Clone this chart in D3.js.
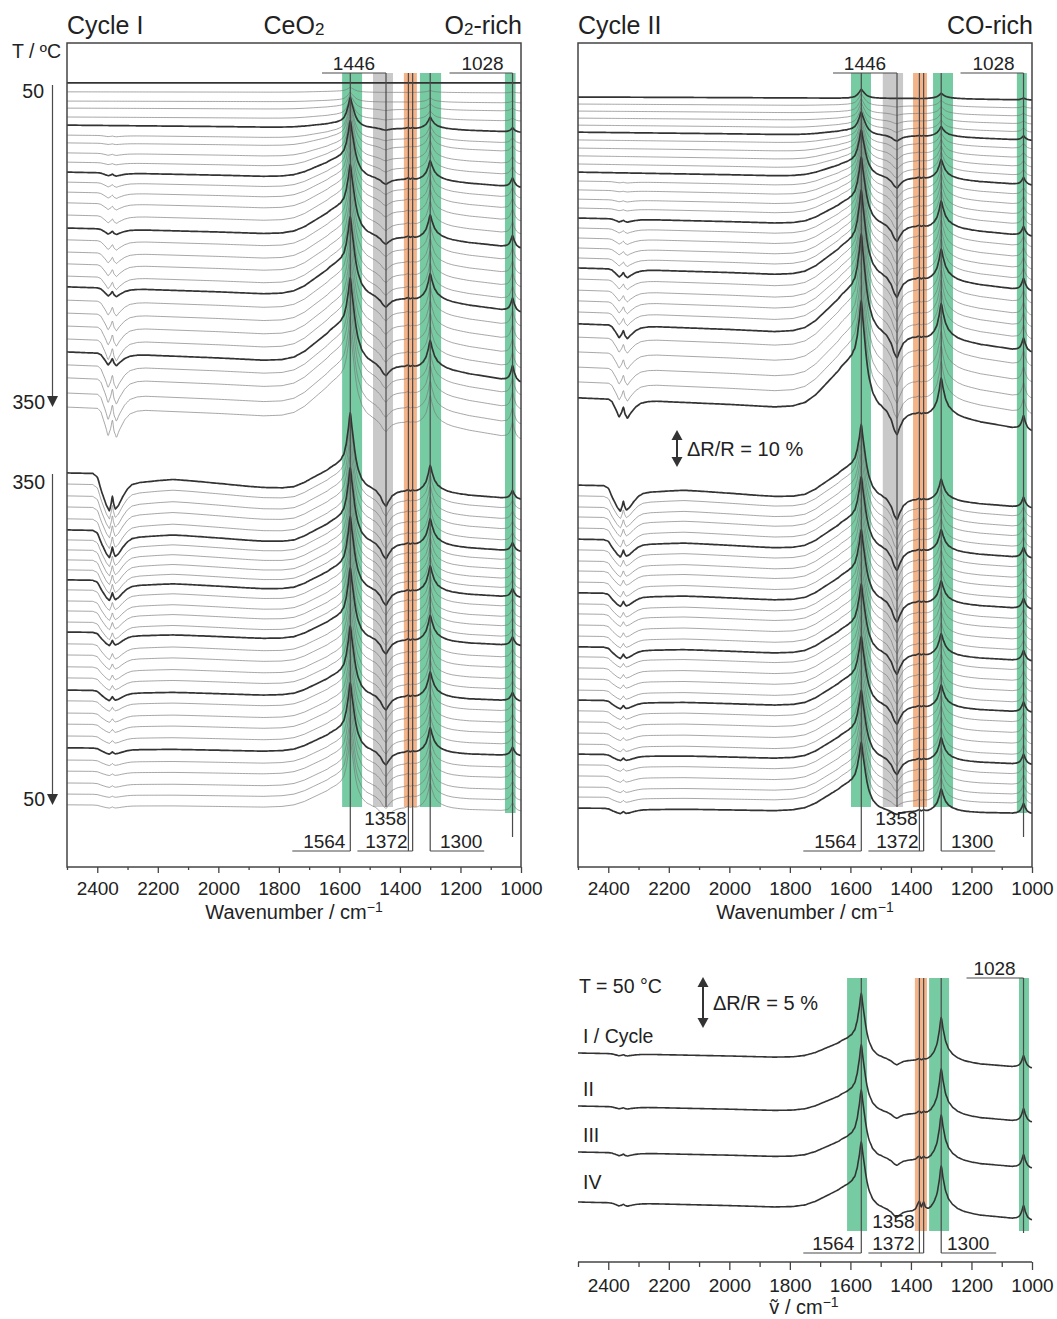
<!DOCTYPE html>
<html>
<head>
<meta charset="utf-8">
<title>DRIFT spectra of CeO2 under cycling</title>
<script src="https://cdn.jsdelivr.net/npm/d3@7/dist/d3.min.js"></script>
<style>
  html, body { margin: 0; padding: 0; background: #fff; }
  svg { display: block; font-family: "Liberation Sans", Arial, Helvetica, sans-serif; }
</style>
</head>
<body>
<svg id="chart" width="1057" height="1319"></svg>
<script>
// ---------- normalised band profiles: [wavenumber / cm-1, intensity] ----------
const band1564 = [[2500,0],[1640,0],[1610,0.04],[1595,0.1],[1585,0.2],[1577,0.4],[1570,0.7],[1564,1],[1558,0.75],[1550,0.45],[1540,0.22],[1528,0.1],[1512,0.04],[1490,0.015],[1460,0],[1000,0]];
const band1300 = [[2500,0],[1360,0],[1345,0.05],[1333,0.12],[1322,0.24],[1313,0.42],[1306,0.7],[1300,1],[1294,0.75],[1286,0.48],[1276,0.3],[1262,0.18],[1245,0.1],[1225,0.05],[1200,0.02],[1170,0],[1000,0]];
const band1028 = [[2500,0],[1065,0],[1050,0.08],[1040,0.25],[1034,0.55],[1028,1],[1022,0.55],[1015,0.22],[1008,0.08],[1000,0.02]];
const bandShoulder = [[2500,0],[1850,0],[1790,0.04],[1750,0.12],[1715,0.28],[1685,0.48],[1655,0.68],[1630,0.85],[1610,0.95],[1590,1],[1575,0.98],[1564,0.9],[1552,0.7],[1540,0.45],[1525,0.25],[1505,0.12],[1480,0.05],[1450,0],[1000,0]];
const bandGasCO2 = [[2500,0],[2400,0],[2388,-0.12],[2375,-0.55],[2364,-0.95],[2356,-0.7],[2350,-0.4],[2345,-0.75],[2337,-1],[2326,-0.72],[2310,-0.38],[2292,-0.15],[2268,-0.04],[2240,0],[1000,0]];
const bandBroadCO2 = [[2500,0],[2415,0],[2400,-0.1],[2385,-0.5],[2370,-0.85],[2360,-1],[2354,-0.8],[2350,-0.6],[2346,-0.8],[2340,-0.95],[2330,-0.85],[2315,-0.6],[2300,-0.4],[2285,-0.28],[2260,-0.22],[2200,-0.16],[2150,-0.12],[2100,-0.14],[2000,-0.2],[1900,-0.26],[1800,-0.3],[1750,-0.32],[1700,-0.3],[1000,-0.3]];
const band1446 = [[2500,0],[1500,0],[1480,-0.1],[1465,-0.4],[1455,-0.8],[1446,-1],[1438,-0.7],[1425,-0.3],[1410,-0.1],[1395,0],[1000,0]];
const band1372 = [[2500,0],[1395,0],[1385,0.2],[1376,0.8],[1372,1],[1366,0.4],[1362,0.7],[1358,0.9],[1352,0.3],[1342,0],[1000,0]];
const baselineDrift = [[2500,0],[2300,0.08],[2000,0.2],[1800,0.3],[1600,0.38],[1400,0.48],[1300,0.55],[1200,0.68],[1100,0.84],[1000,1]];

// ---------- Cycle I (O2-rich), heating 50 -> 350 °C (ΔR/R in %, offsets in %) ----------
const c1HeatOffset = [10.8,13.2,15.7,17.6,20.0,22.2,24.9,27.0,29.7,32.2,34.9,37.6,40.3,43.2,46.5,50.0,53.2,56.5,59.7,63.0,65.9,69.5,73.0,76.5,80.0,83.5,87.0,90.5,94.6,98.4];
const c1HeatP1564 = [0,1.1,2.2,3.2,4.6,7.0,7.8,8.6,9.5,10.3,10.8,11.4,11.6,11.9,12.2,12.4,12.7,13.0,13.0,13.2,13.5,13.5,13.8,13.8,14.1,14.1,14.1,14.3,14.3,14.3];
const c1HeatP1300 = [0,0.5,1.1,1.6,2.2,3.2,3.8,4.3,4.9,5.1,5.4,5.7,5.9,6.2,6.5,6.5,6.8,6.8,7.0,7.0,7.3,7.3,7.3,7.6,7.6,7.6,7.6,7.8,7.8,7.8];
const c1HeatP1028 = [0,0.3,0.5,0.8,0.8,1.1,1.4,1.6,1.9,2.2,2.4,2.7,2.7,3.0,3.0,3.2,3.2,3.2,3.5,3.5,3.5,3.8,3.8,3.8,3.8,4.1,4.1,4.1,4.1,4.1];
const c1HeatShoulder = [0,0.3,0.5,0.8,1.1,1.4,2.2,3.0,3.8,4.6,5.4,5.9,6.5,7.0,7.6,7.8,8.1,8.4,8.6,8.9,9.2,9.5,9.7,10.0,10.3,10.3,10.5,10.8,10.8,11.1];
const c1HeatCO2 = [0,0,0,0,0,0,0.3,0.3,0.5,0.5,0.8,1.1,1.4,1.6,1.9,1.4,2.4,2.7,3.0,3.2,2.2,3.8,4.3,4.9,5.4,3.2,5.9,6.5,7.0,7.6];
const c1HeatP1446 = [0,0,0,0.3,0.3,0.5,0.5,0.8,0.8,1.1,1.4,1.4,1.6,1.6,1.9,1.9,1.9,2.2,2.2,2.2,2.4,2.4,2.4,2.7,2.7,2.7,2.7,2.7,2.7,2.7];
const c1HeatP1372 = [0,0,0,0,0.3,0.3,0.3,0.3,0.3,0.3,0.5,0.5,0.5,0.5,0.5,0.5,0.5,0.5,0.5,0.5,0.5,0.5,0.5,0.5,0.5,0.5,0.5,0.5,0.5,0.5];
const c1HeatDrift = [0,0.3,0.5,0.8,1.1,1.9,2.2,2.4,3.0,3.5,4.1,4.3,4.6,4.9,5.1,5.4,5.7,5.9,6.2,6.5,6.8,7.0,7.3,7.6,7.8,8.1,8.1,8.4,8.4,8.6];
const c1HeatBold = [0,5,10,15,20,25];

// ---------- Cycle I, cooling 350 -> 50 °C ----------
const c1CoolOffset = [116.2,119.2,122.4,125.4,128.6,131.6,134.3,137.0,139.7,142.4,145.1,147.8,150.8,153.5,156.5,159.2,162.4,165.4,168.6,171.6,174.9,177.8,181.1,184.1,187.3,190.5,193.8,196.8,200.0,203.0,205.9];
const c1CoolP1564 = [14.9,14.9,14.8,14.8,14.7,14.6,14.6,14.5,14.4,14.4,14.3,14.2,14.2,14.1,14.0,14.0,13.9,13.9,13.8,13.8,13.7,13.7,13.6,13.6,13.6,13.5,13.5,13.5,13.5,13.5,13.5];
const c1CoolP1300 = [7.3,7.3,7.3,7.2,7.2,7.2,7.2,7.1,7.1,7.1,7.1,7.0,7.0,7.0,7.0,7.0,6.9,6.9,6.9,6.9,6.9,6.9,6.8,6.8,6.8,6.8,6.8,6.8,6.8,6.8,6.8];
const c1CoolP1028 = [2.2,2.2,2.2,2.2,2.2,2.2,2.2,2.2,2.2,2.2,2.2,2.2,2.2,2.2,2.2,2.2,2.2,2.2,2.2,2.2,2.2,2.2,2.2,2.2,2.2,2.2,2.2,2.2,2.2,2.2,2.2];
const c1CoolShoulder = [6.8,6.8,6.8,6.7,6.7,6.6,6.6,6.5,6.5,6.4,6.4,6.3,6.3,6.2,6.2,6.1,6.1,6.1,6.0,6.0,6.0,6.0,5.9,5.9,5.9,5.9,5.9,5.9,5.9,5.9,5.9];
const c1CoolCO2 = [10.0,9.2,8.6,8.1,7.8,7.3,7.0,6.8,6.5,6.2,5.4,5.4,5.1,4.9,4.6,3.5,4.1,3.8,3.5,3.2,2.7,2.7,2.4,2.2,1.9,1.6,1.4,1.1,1.1,0.8,0.8];
const c1CoolP1446 = [4.1,4.1,4.1,4.0,4.0,4.0,3.9,3.9,3.9,3.9,3.8,3.8,3.8,3.8,3.7,3.7,3.7,3.7,3.6,3.6,3.6,3.6,3.6,3.5,3.5,3.4,3.3,3.2,3.1,3.0,2.9];
const c1CoolP1372 = [0.5,0.5,0.5,0.5,0.5,0.5,0.5,0.5,0.5,0.5,0.5,0.5,0.5,0.5,0.5,0.5,0.5,0.5,0.5,0.5,0.5,0.5,0.5,0.5,0.5,0.5,0.5,0.5,0.5,0.5,0.5];
const c1CoolDrift = [4.1,4.0,3.9,3.8,3.7,3.6,3.5,3.4,3.3,3.2,3.1,3.0,2.9,2.8,2.7,2.6,2.5,2.4,2.3,2.2,2.1,2.0,1.9,1.8,1.7,1.6,1.6,1.5,1.5,1.4,1.4];
const c1CoolBold = [0,5,10,15,20,25];

// ---------- Cycle II (CO-rich), heating 50 -> 350 °C ----------
const c2HeatOffset = [14.6,16.5,18.4,20.3,22.2,24.1,26.2,28.4,30.5,32.7,34.9,37.3,39.7,42.2,44.6,47.3,50.0,52.7,55.4,58.1,60.8,63.8,66.8,69.7,72.7,75.9,79.5,83.5,87.6,91.6,95.9];
const c2HeatP1564 = [2.4,3.0,3.5,4.1,4.6,5.1,5.9,6.8,7.6,8.4,9.2,10.0,10.8,11.4,11.9,12.4,13.0,13.5,14.1,14.6,15.1,15.4,15.7,15.9,16.2,16.5,16.8,17.0,17.3,17.6,17.8];
const c2HeatP1300 = [1.4,1.6,1.9,2.2,2.4,2.7,3.2,3.8,4.3,4.9,5.4,5.9,6.5,6.8,7.0,7.3,7.6,7.8,8.1,8.4,8.6,8.9,9.2,9.5,9.7,9.7,10.0,10.0,10.3,10.3,10.3];
const c2HeatP1028 = [0.5,0.5,0.8,0.8,1.1,1.1,1.4,1.4,1.6,1.6,1.9,1.9,2.2,2.2,2.4,2.4,2.7,2.7,3.0,3.0,3.2,3.2,3.2,3.5,3.5,3.5,3.8,3.8,3.8,3.8,3.8];
const c2HeatShoulder = [0,0.3,0.5,0.8,1.1,1.4,1.9,2.4,3.0,3.5,4.1,4.6,5.1,5.7,6.2,6.8,7.3,7.8,8.4,8.9,9.5,10.0,10.5,11.1,11.6,12.2,12.4,12.7,13.0,13.2,13.5];
const c2HeatCO2 = [0,0,0,0,0,0,0,0,0,0,0,0.3,0.3,0.5,0.5,0.8,1.1,1.4,1.6,1.9,2.2,2.4,2.7,3.0,3.2,3.5,3.8,4.1,4.3,4.6,4.9];
const c2HeatP1446 = [0,0.3,0.5,0.8,1.1,1.4,1.6,1.9,2.2,2.4,2.7,3.0,3.2,3.5,3.8,4.1,4.3,4.6,4.9,4.9,5.1,5.1,5.4,5.4,5.4,5.7,5.7,5.7,5.9,5.9,5.9];
const c2HeatP1372 = [0,0,0.1,0.1,0.2,0.2,0.3,0.3,0.3,0.4,0.4,0.4,0.5,0.5,0.5,0.5,0.5,0.5,0.5,0.5,0.5,0.5,0.5,0.5,0.5,0.5,0.5,0.5,0.5,0.5,0.5];
const c2HeatDrift = [0.8,1.1,1.4,1.6,1.9,2.2,2.4,2.7,3.0,3.2,3.5,3.8,4.1,4.3,4.6,4.9,5.1,5.4,5.7,5.9,6.2,6.5,6.8,7.0,7.3,7.6,7.8,8.1,8.4,8.6,8.9];
const c2HeatBold = [0,5,10,15,20,25,30];

// ---------- Cycle II, cooling 350 -> 50 °C ----------
const c2CoolOffset = [119.5,122.4,125.4,128.1,131.1,134.1,137.0,140.0,142.7,145.7,148.6,151.6,154.3,157.3,160.3,163.2,165.9,168.9,171.9,174.9,177.6,180.5,183.5,186.5,189.5,192.2,195.1,198.1,201.1,203.8,206.8];
const c2CoolP1564 = [12.4,12.4,12.4,12.3,12.3,12.3,12.3,12.2,12.2,12.2,12.2,12.2,12.1,12.1,12.1,12.1,12.1,12.0,12.0,12.0,12.0,12.0,12.0,11.9,11.9,11.9,11.9,11.9,11.9,11.9,11.9];
const c2CoolP1300 = [5.9,5.9,5.9,5.9,6.0,6.0,6.0,6.0,6.0,6.0,6.1,6.1,6.1,6.1,6.1,6.1,6.1,6.1,6.2,6.2,6.2,6.2,6.2,6.2,6.2,6.2,6.2,6.2,6.2,6.2,6.2];
const c2CoolP1028 = [2.7,2.7,2.7,2.7,2.7,2.7,2.7,2.7,2.7,2.7,2.7,2.7,2.7,2.7,2.7,2.7,2.7,2.7,2.7,2.7,2.7,2.7,2.7,2.7,2.7,2.7,2.7,2.7,2.7,2.7,2.7];
const c2CoolShoulder = [8.6,8.6,8.6,8.6,8.4,8.4,8.4,8.4,8.4,8.1,8.1,8.1,8.1,8.1,8.1,7.8,7.8,7.8,7.8,7.8,7.8,7.8,7.6,7.6,7.6,7.6,7.6,7.6,7.6,7.6,7.6];
const c2CoolCO2 = [6.8,5.9,5.4,5.1,4.9,4.6,4.3,4.1,3.8,3.8,3.5,3.5,3.2,3.2,3.0,3.0,2.7,2.7,2.4,2.4,2.2,2.2,1.9,1.9,1.9,1.6,1.6,1.6,1.4,1.4,1.4];
const c2CoolP1446 = [5.4,5.4,5.4,5.4,5.4,5.4,5.4,5.4,5.4,5.4,5.4,5.4,5.4,5.4,5.3,5.2,5.1,5.0,4.9,4.8,4.7,4.6,4.5,4.4,4.2,4.0,3.4,2.8,2.0,1.4,0.8];
const c2CoolP1372 = [0.5,0.5,0.5,0.5,0.5,0.5,0.5,0.5,0.5,0.5,0.5,0.5,0.5,0.5,0.5,0.5,0.5,0.5,0.5,0.5,0.5,0.5,0.5,0.5,0.5,0.5,0.5,0.5,0.5,0.5,0.5];
const c2CoolDrift = [4.1,4.0,3.9,3.9,3.8,3.7,3.6,3.5,3.5,3.4,3.3,3.2,3.2,3.1,3.0,2.9,2.9,2.8,2.7,2.7,2.6,2.5,2.5,2.4,2.4,2.3,2.1,1.9,1.6,1.3,1.0];
const c2CoolBold = [0,5,10,15,20,25,30];

// ---------- T = 50 °C after cycles I-IV (ΔR/R in %) ----------
const cycleNames = ["I / Cycle", "II", "III", "IV"];
const endOffset = [9.3, 14.6, 19.2, 24.2];
const endP1564 = [4.8, 5.0, 5.0, 4.6];
const endP1300 = [4.4, 4.6, 4.6, 4.6];
const endP1028 = [1.2, 1.3, 1.3, 1.4];
const endShoulder = [2.0, 2.0, 2.1, 2.4];
const endCO2 = [0.2, 0.2, 0.3, 0.3];
const endP1446 = [0.5, 0.5, 0.6, 0.7];
const endP1372 = [0.2, 0.3, 0.4, 1.0];
const endDrift = [1.5, 1.6, 1.6, 1.8];

// ---------- axis ticks and marked bands ----------
const majorTicks = [2400, 2200, 2000, 1800, 1600, 1400, 1200, 1000];
const minorTicks = [2500, 2300, 2100, 1900, 1700, 1500, 1300, 1100];
const shadesCycle1 = [[1591,1525,"carb"],[1489,1423,"grey"],[1387,1344,"orange"],[1334,1264,"carb"],[1053,1018,"carb"]];
const shadesCycle2 = [[1598,1532,"carb"],[1493,1426,"grey"],[1393,1347,"orange"],[1327,1261,"carb"],[1050,1017,"carb"]];
const shadesEnd = [[1611,1545,"carb"],[1387,1347,"orange"],[1340,1274,"carb"],[1043,1010,"carb"]];

// ======================================================================
const shadeColor = { carb: "#76cba3", grey: "#c9c9c9", orange: "#f3b48a" };
const ink = "#333";
const svg = d3.select("#chart");

const profile = pts => d3.scaleLinear().domain(pts.map(d => d[0])).range(pts.map(d => d[1])).clamp(true);
const P = {
  p1564: profile(band1564), p1300: profile(band1300), p1028: profile(band1028),
  shoulder: profile(bandShoulder), gas: profile(bandGasCO2), broad: profile(bandBroadCO2),
  p1446: profile(band1446), p1372: profile(band1372), drift: profile(baselineDrift)
};
// evaluation grid: every knot of every profile, plus a regular 10 cm-1 mesh
const gridSet = new Set(d3.range(2500, 999, -10));
[band1564, band1300, band1028, bandShoulder, bandGasCO2, bandBroadCO2, band1446, band1372, baselineDrift]
  .forEach(b => b.forEach(d => gridSet.add(d[0])));
const grid = Array.from(gridSet).filter(v => v <= 2500 && v >= 1000).sort((a, b) => b - a);

const sections = {
  c1Heat: { offset: c1HeatOffset, p1564: c1HeatP1564, p1300: c1HeatP1300, p1028: c1HeatP1028, shoulder: c1HeatShoulder, co2: c1HeatCO2, co2Shape: "gas", p1446: c1HeatP1446, p1372: c1HeatP1372, drift: c1HeatDrift, bold: c1HeatBold },
  c1Cool: { offset: c1CoolOffset, p1564: c1CoolP1564, p1300: c1CoolP1300, p1028: c1CoolP1028, shoulder: c1CoolShoulder, co2: c1CoolCO2, co2Shape: "broad", p1446: c1CoolP1446, p1372: c1CoolP1372, drift: c1CoolDrift, bold: c1CoolBold },
  c2Heat: { offset: c2HeatOffset, p1564: c2HeatP1564, p1300: c2HeatP1300, p1028: c2HeatP1028, shoulder: c2HeatShoulder, co2: c2HeatCO2, co2Shape: "gas", p1446: c2HeatP1446, p1372: c2HeatP1372, drift: c2HeatDrift, bold: c2HeatBold },
  c2Cool: { offset: c2CoolOffset, p1564: c2CoolP1564, p1300: c2CoolP1300, p1028: c2CoolP1028, shoulder: c2CoolShoulder, co2: c2CoolCO2, co2Shape: "broad", p1446: c2CoolP1446, p1372: c2CoolP1372, drift: c2CoolDrift, bold: c2CoolBold },
  end: { offset: endOffset, p1564: endP1564, p1300: endP1300, p1028: endP1028, shoulder: endShoulder, co2: endCO2, co2Shape: "gas", p1446: endP1446, p1372: endP1372, drift: endDrift, bold: [0,1,2,3] }
};

function spectrum(sec, i) {
  return grid.map(nu => {
    const v = sec.p1564[i] * P.p1564(nu) + sec.p1300[i] * P.p1300(nu) + sec.p1028[i] * P.p1028(nu)
      + sec.shoulder[i] * P.shoulder(nu) + sec.co2[i] * P[sec.co2Shape](nu)
      + sec.p1446[i] * P.p1446(nu) + sec.p1372[i] * P.p1372(nu) - sec.drift[i] * P.drift(nu);
    return [nu, sec.offset[i] - v];
  });
}

function drawSection(g, sec, x, y, boldWidth) {
  const line = d3.line().x(d => x(d[0])).y(d => y(d[1])).curve(d3.curveMonotoneX);
  const idx = d3.range(sec.offset.length);
  const thin = idx.filter(i => !sec.bold.includes(i));
  g.selectAll(null).data(thin).join("path")
    .attr("d", i => line(spectrum(sec, i)))
    .attr("fill", "none").attr("stroke", "#777").attr("stroke-width", 0.65);
  g.selectAll(null).data(sec.bold).join("path")
    .attr("d", i => line(spectrum(sec, i)))
    .attr("fill", "none").attr("stroke", ink).attr("stroke-width", boldWidth);
}

function drawShades(g, shades, x, y0, y1) {
  g.selectAll(null).data(shades).join("rect")
    .attr("x", d => x(d[0])).attr("width", d => x(d[1]) - x(d[0]))
    .attr("y", y0).attr("height", y1 - y0)
    .attr("fill", d => shadeColor[d[2]]);
}

function vline(g, x, y0, y1) {
  g.append("line").attr("x1", x).attr("x2", x).attr("y1", y0).attr("y2", y1)
    .attr("stroke", "#4a4a4a").attr("stroke-width", 1.2);
}
function hline(g, x0, x1, y) {
  g.append("line").attr("x1", x0).attr("x2", x1).attr("y1", y).attr("y2", y)
    .attr("stroke", "#4a4a4a").attr("stroke-width", 1.2);
}
function label(g, txt, x, y, size, anchor) {
  return g.append("text").attr("x", x).attr("y", y).attr("font-size", size)
    .attr("text-anchor", anchor || "middle").attr("fill", "#222").text(txt);
}

function drawAxis(g, x, y0, major, minor, pad, size) {
  const gMaj = g.append("g").attr("transform", `translate(0,${y0})`)
    .call(d3.axisBottom(x).tickValues(majorTicks).tickSize(major).tickPadding(pad).tickFormat(d3.format("d")));
  gMaj.select(".domain").remove();
  gMaj.selectAll(".tick line").attr("stroke", "#444").attr("stroke-width", 1.3);
  gMaj.selectAll(".tick text").attr("font-size", size).attr("fill", "#222")
    .attr("font-family", "'Liberation Sans', Arial, sans-serif");
  const gMin = g.append("g").attr("transform", `translate(0,${y0})`)
    .call(d3.axisBottom(x).tickValues(minorTicks).tickSize(minor).tickFormat(""));
  gMin.select(".domain").remove();
  gMin.selectAll(".tick line").attr("stroke", "#444").attr("stroke-width", 1.3);
}

function axisTitle(g, cx, y, base) {
  const t = g.append("text").attr("x", cx).attr("y", y).attr("text-anchor", "middle")
    .attr("font-size", 20).attr("fill", "#222");
  t.append("tspan").text(base + " / cm");
  t.append("tspan").attr("dy", -7).attr("font-size", 14).text("\u22121");
}

function subTitle(g, x, y, parts, anchor) {
  const t = g.append("text").attr("x", x).attr("y", y).attr("font-size", 25)
    .attr("text-anchor", anchor).attr("fill", "#222");
  parts.forEach(p => {
    if (p.sub) t.append("tspan").attr("font-size", 17).attr("dy", 1).text(p.t);
    else t.append("tspan").attr("dy", p.after ? -1 : 0).text(p.t);
  });
}

function doubleArrow(g, x, y0, y1) {
  g.append("line").attr("x1", x).attr("x2", x).attr("y1", y0 + 6).attr("y2", y1 - 6)
    .attr("stroke", ink).attr("stroke-width", 2);
  g.append("path").attr("d", `M${x},${y0} L${x - 5.5},${y0 + 10} L${x + 5.5},${y0 + 10} Z`).attr("fill", ink);
  g.append("path").attr("d", `M${x},${y1} L${x - 5.5},${y1 - 10} L${x + 5.5},${y1 - 10} Z`).attr("fill", ink);
}

// ---------- stacked panels ----------
const frameTop = 43, frameBottom = 867;
const yStack = d3.scaleLinear().domain([0, 223]).range([frameTop, frameTop + 223 * 3.7]);

function stackedPanel(left, shades, heat, cool, clipId) {
  const x = d3.scaleLinear().domain([2500, 1000]).range([left, left + 454]);
  const g = svg.append("g");
  svg.append("clipPath").attr("id", clipId).append("rect")
    .attr("x", left).attr("y", frameTop).attr("width", 454).attr("height", frameBottom - frameTop);
  const body = g.append("g").attr("clip-path", `url(#${clipId})`);
  drawShades(body, shades.slice(0, 4), x, 73, 807);
  drawShades(body, shades.slice(4), x, 73, 813);
  drawSection(body, heat, x, yStack, 1.7);
  drawSection(body, cool, x, yStack, 1.7);
  // band markers
  const top = 73, bot = 851;
  vline(g, x(1564), top, bot);
  vline(g, x(1446), top, 807);
  vline(g, x(1372), top, bot);
  vline(g, x(1358), top, bot);
  vline(g, x(1300), top, bot);
  vline(g, x(1028), top, 837);
  hline(g, x(1446) - 64, x(1446), top);
  hline(g, x(1028) - 63, x(1028), top);
  hline(g, x(1564) - 58, x(1564), bot);
  hline(g, x(1372) - 51, x(1358), bot);
  hline(g, x(1300), x(1300) + 54, bot);
  label(g, "1446", x(1446) - 32, 70, 19);
  label(g, "1028", x(1028) - 30, 70, 19);
  label(g, "1564", x(1564) - 26, 848, 19);
  label(g, "1358", x(1372) - 23, 825, 19);
  label(g, "1372", x(1372) - 22, 848, 19);
  label(g, "1300", x(1300) + 31, 848, 19);
  // frame and axis
  g.append("rect").attr("x", left).attr("y", frameTop).attr("width", 454).attr("height", frameBottom - frameTop)
    .attr("fill", "none").attr("stroke", "#444").attr("stroke-width", 1.5);
  drawAxis(g, x, frameBottom, 6, 3, 8.5, 19);
  axisTitle(g, left + 227, 919, "Wavenumber");
  return { g, x };
}

const p1 = stackedPanel(67, shadesCycle1, sections.c1Heat, sections.c1Cool, "clipA");
const p2 = stackedPanel(578, shadesCycle2, sections.c2Heat, sections.c2Cool, "clipB");

// panel titles
label(p1.g, "Cycle I", 67, 34, 25, "start");
subTitle(p1.g, 294, 34, [{ t: "CeO" }, { sub: true, t: "2" }], "middle");
subTitle(p1.g, 522, 34, [{ t: "O" }, { sub: true, t: "2" }, { t: "-rich", after: true }], "end");
label(p2.g, "Cycle II", 578, 34, 25, "start");
label(p2.g, "CO-rich", 1033, 34, 25, "end");

// temperature ramps (cycle I)
label(p1.g, "T / \u00baC", 12, 58, 19.5, "start");
label(p1.g, "50", 44, 98, 19.5, "end");
label(p1.g, "350", 45, 409, 19.5, "end");
label(p1.g, "350", 45, 489, 19.5, "end");
label(p1.g, "50", 45, 806, 19.5, "end");
vline(p1.g, 52.5, 85, 398);
vline(p1.g, 52.5, 474, 796);
p1.g.append("path").attr("d", "M47,396 L58,396 L52.5,407 Z").attr("fill", ink);
p1.g.append("path").attr("d", "M47,794 L58,794 L52.5,805 Z").attr("fill", ink);

// scale bar (cycle II)
doubleArrow(p2.g, 677, 430, 467);
label(p2.g, "\u0394R/R = 10 %", 687, 456, 20, "start");

// ---------- bottom panel: spectra at 50 °C after each cycle ----------
const x3 = d3.scaleLinear().domain([2500, 1000]).range([578, 1032]);
const y3 = d3.scaleLinear().domain([0, 30]).range([960, 1260]);
const g3 = svg.append("g");
drawShades(g3, shadesEnd, x3, 978, 1231);
drawSection(g3, sections.end, x3, y3, 1.6);
vline(g3, x3(1564), 978, 1253);
vline(g3, x3(1372), 978, 1253);
vline(g3, x3(1358), 978, 1253);
vline(g3, x3(1300), 978, 1253);
vline(g3, x3(1028), 978, 1233);
hline(g3, x3(1028) - 57, x3(1028), 978);
hline(g3, x3(1564) - 58, x3(1564), 1253);
hline(g3, x3(1372) - 51, x3(1358), 1253);
hline(g3, x3(1300), x3(1300) + 55, 1253);
label(g3, "1028", x3(1028) - 29, 975, 19);
label(g3, "1564", x3(1564) - 28, 1250, 19);
label(g3, "1358", x3(1372) - 26, 1228, 19);
label(g3, "1372", x3(1372) - 26, 1250, 19);
label(g3, "1300", x3(1300) + 27, 1250, 19);
label(g3, "T = 50 \u00b0C", 579, 993, 19.5, "start");
doubleArrow(g3, 703, 977, 1028);
label(g3, "\u0394R/R = 5 %", 713, 1010, 20, "start");
const cycleY = [1043, 1096, 1142, 1189];
cycleNames.forEach((n, i) => label(g3, n, 583, cycleY[i], 19.5, "start"));
g3.append("line").attr("x1", 578).attr("x2", 1032).attr("y1", 1262).attr("y2", 1262)
  .attr("stroke", "#444").attr("stroke-width", 1.5);
drawAxis(g3, x3, 1262, 8, 5, 8.5, 19);
axisTitle(g3, 804, 1314, "\u1E7D");
</script>
</body>
</html>
